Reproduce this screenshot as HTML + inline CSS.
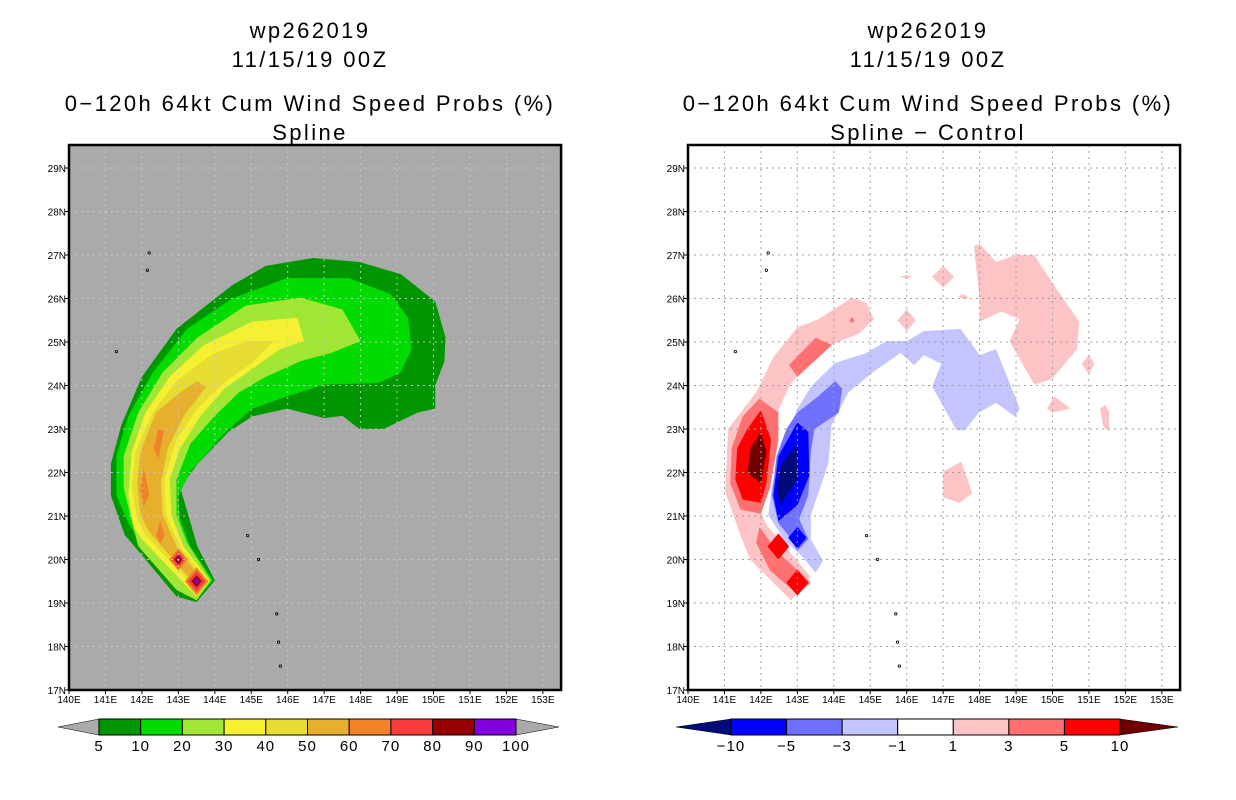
<!DOCTYPE html>
<html><head><meta charset="utf-8"><style>
html,body{margin:0;padding:0;background:#fff;width:1236px;height:800px;overflow:hidden}
svg{display:block}
text{font-family:"Liberation Sans",sans-serif;fill:#000}
.t{font-size:22px;text-anchor:middle;letter-spacing:2.4px}
.ax{font-size:10px}
.cb{font-size:15px;text-anchor:middle;letter-spacing:1px}
</style></head><body>
<svg id="s" width="1236" height="800" viewBox="0 0 1236 800" xmlns="http://www.w3.org/2000/svg"></svg>
<script>
// ---- data ----
const lonTicks=[140,141,142,143,144,145,146,147,148,149,150,151,152,153];
const latTicks=[17,18,19,20,21,22,23,24,25,26,27,28,29];
const probLevels=["5","10","20","30","40","50","60","70","80","90","100"];
const probColors=["#009600","#00dc00","#a0e632","#f5f032","#e6dc32","#e6af2d","#f08228","#fa3c3c","#960000","#8200dc"];
const diffLevels=["\u221210","\u22125","\u22123","\u22121","1","3","5","10"];
const diffColors=["#000a78","#0000ff","#7070ff","#c4c4ff","#ffffff","#fcc4c4","#ff7070","#ff0000","#6e0000"];
// probability contours [lon,lat]
const p5=[[143.5,19.02],[142.95,19.15],[142.0,20.1],[141.53,20.56],[141.15,21.47],[141.15,22.2],[141.44,23.1],[142.0,24.2],[142.95,25.3],[144.47,26.3],[145.4,26.75],[146.7,26.93],[147.97,26.84],[149.1,26.56],[150.05,25.93],[150.33,25.1],[150.3,24.56],[150.05,24.0],[150.05,23.47],[149.57,23.38],[148.63,23.0],[147.97,23.0],[147.5,23.3],[147.0,23.25],[145.98,23.47],[145.03,23.29],[144.37,22.93],[143.53,22.2],[143.05,21.65],[143.28,21.0],[143.52,20.3],[144.0,19.52]];
const p10=[[143.5,19.1],[142.0,20.3],[141.63,20.84],[141.3,21.47],[141.3,22.38],[141.63,23.3],[142.3,24.3],[143.24,25.3],[144.47,26.0],[145.98,26.47],[147.68,26.47],[148.82,26.1],[149.3,25.56],[149.4,24.84],[149.1,24.3],[148.5,24.06],[147.0,24.02],[145.98,23.75],[145.03,23.47],[144.3,22.93],[143.33,22.02],[143.0,21.47],[143.05,20.93],[143.33,20.3],[143.95,19.52]];
const p20=[[143.5,19.06],[142.95,19.3],[141.9,20.3],[141.68,21.02],[141.5,21.65],[141.5,22.38],[141.9,23.38],[142.57,24.3],[143.52,25.1],[144.85,25.84],[146.36,26.02],[147.5,25.75],[148.0,25.02],[147.2,24.75],[146.36,24.56],[145.4,24.2],[144.66,23.84],[144.0,23.3],[143.33,22.66],[142.95,21.84],[142.95,21.02],[143.24,20.38],[143.9,19.52]];
const p30=[[143.5,19.15],[142.0,20.47],[141.77,20.75],[141.63,21.47],[141.72,22.47],[142.1,23.38],[142.76,24.2],[143.7,24.93],[145.03,25.47],[146.26,25.56],[146.45,25.02],[145.8,24.84],[145.03,24.38],[144.27,23.93],[143.6,23.29],[143.05,22.56],[142.76,21.84],[142.81,21.02],[143.14,20.3],[143.85,19.52]];
const p40=[[143.5,19.3],[142.1,20.56],[141.87,20.93],[141.72,21.65],[141.82,22.47],[142.3,23.38],[142.95,24.1],[143.9,24.7],[144.85,25.02],[145.6,25.02],[144.95,24.47],[144.3,24.1],[143.52,23.47],[142.95,22.75],[142.62,21.84],[142.66,21.02],[143.05,20.3],[143.76,19.52]];
const p50=[[143.5,19.38],[142.19,20.65],[141.96,21.02],[141.87,21.75],[141.96,22.47],[142.38,23.38],[143.05,23.84],[143.52,24.1],[143.76,23.97],[143.14,23.29],[142.71,22.56],[142.52,21.75],[142.57,21.02],[142.95,20.3],[143.66,19.52]];
const p60a=[[142.45,23.0],[142.6,22.95],[142.45,22.3],[142.33,22.55]];
const p60b=[[142.05,22.1],[142.2,21.5],[142.05,21.2],[141.95,21.6]];
const p60c=[[142.5,20.9],[142.62,20.55],[142.5,20.35],[142.4,20.55]];
const peakA=[143.0,20.0], peakB=[143.5,19.5];
// difference contours
const dPinkArc=[[143.2,19.45],[142.83,19.06],[141.7,20.0],[141.4,20.65],[141.02,21.56],[141.1,23.0],[141.87,23.84],[142.34,24.65],[143.0,25.34],[143.57,25.52],[144.5,26.02],[144.9,25.9],[145.1,25.52],[144.7,25.2],[143.94,24.93],[143.2,24.38],[142.8,24.02],[142.5,23.47],[142.4,22.75],[142.0,21.1],[142.15,20.8],[143.37,19.6]];
const dPinkEast=[[147.85,27.2],[148.0,27.25],[148.45,26.84],[149.0,27.0],[149.5,27.0],[149.98,26.38],[150.73,25.47],[150.68,24.84],[149.98,24.15],[149.5,24.02],[148.82,25.02],[149.1,25.52],[148.6,25.7],[148.0,25.47],[148.0,26.02],[147.9,26.75]];
const dPinkSmall=[[[146.7,26.5],[147.0,26.75],[147.3,26.5],[147.0,26.25]],[[145.75,25.5],[146.0,25.75],[146.25,25.5],[146.0,25.25]],[[150.8,24.5],[151.0,24.7],[151.15,24.5],[151.0,24.25]],[[149.85,23.47],[150.05,23.75],[150.5,23.47],[150.0,23.38]],[[151.3,23.47],[151.45,23.55],[151.55,23.4],[151.55,22.95],[151.4,23.05]],[[147.0,22.02],[147.5,22.25],[147.8,21.52],[147.45,21.3],[147.0,21.43]],[[145.8,26.5],[146.0,26.54],[146.15,26.5],[146.0,26.46]],[[147.4,26.05],[147.55,26.1],[147.7,26.02],[147.55,25.98]]];
const dMedRed=[[[142.77,24.47],[143.5,25.1],[143.95,24.93],[143.0,24.2]],[[141.96,23.7],[142.48,23.38],[142.48,22.75],[142.25,21.65],[142.0,21.05],[141.44,21.15],[141.16,21.75],[141.2,22.56],[141.5,23.29]],[[141.96,20.75],[142.43,20.2],[143.37,19.47],[143.0,19.2],[142.25,19.75],[141.87,20.38]]];
const dRed=[[[142.0,23.43],[142.28,22.75],[142.15,21.75],[142.0,21.3],[141.5,21.38],[141.3,21.84],[141.35,22.56],[141.63,23.0]],[[142.48,20.6],[142.78,20.3],[142.48,20.0],[142.18,20.3]],[[143.0,19.77],[143.3,19.47],[143.0,19.17],[142.7,19.47]]];
const dDarkRed=[[142.0,22.93],[142.15,22.47],[142.0,21.75],[141.63,22.0],[141.72,22.56]];
const dLightBlue=[[143.5,19.7],[143.7,19.97],[143.37,20.47],[143.37,21.02],[143.85,22.2],[143.94,23.1],[144.4,23.84],[145.07,24.3],[145.83,24.75],[146.2,24.47],[146.47,24.7],[146.95,24.5],[146.7,23.97],[147.37,22.97],[147.6,22.97],[147.98,23.38],[148.45,23.6],[148.97,23.29],[149.1,23.47],[148.45,24.84],[148.0,24.7],[147.48,25.3],[146.47,25.25],[146.0,25.02],[145.44,25.02],[144.9,24.75],[144.04,24.52],[143.4,24.0],[143.0,23.47],[142.58,22.56],[142.3,21.65],[142.2,21.02],[142.63,20.47],[143.1,20.1]];
const dMedBlue=[[143.0,23.38],[143.57,23.75],[144.04,24.1],[144.23,23.93],[144.14,23.38],[143.47,23.0],[143.37,22.47],[143.3,21.47],[143.05,20.93],[143.3,20.47],[143.0,20.2],[142.75,20.56],[142.48,20.84],[142.3,21.47],[142.43,22.38],[142.7,23.0]];
const dBlue=[[[143.0,23.15],[143.3,22.93],[143.33,21.93],[143.0,21.25],[142.48,20.88],[142.34,21.47],[142.48,22.38]],[[143.0,20.75],[143.25,20.5],[143.0,20.25],[142.75,20.5]]];
const dNavy=[[143.0,22.65],[143.0,21.84],[142.53,21.25],[142.43,21.65],[142.57,22.2]];
const islands=[[142.2,27.05],[142.15,26.65],[141.3,24.78],[144.9,20.55],[145.2,20.0],[145.7,18.75],[145.75,18.1],[145.8,17.55]];

// ---- drawing ----
const NS="http://www.w3.org/2000/svg";
const svg=document.getElementById('s');
const Y0=690, KX=36.45, KY=43.5;
function xs(lon,ox){return ox+(lon-140)*KX;}
function ys(lat){return Y0-(lat-17)*KY;}
function mk(tag,attrs,parent){const e=document.createElementNS(NS,tag);for(const k in attrs)e.setAttribute(k,attrs[k]);(parent||svg).appendChild(e);return e;}
function poly(pts,ox,fill,g,name){
  const e=mk('polygon',{points:pts.map(p=>xs(p[0],ox).toFixed(1)+','+ys(p[1]).toFixed(1)).join(' '),fill:fill},g);
  
  
  return e;
}
function diamond(c,h,ox,fill,g,name){return poly([[c[0],c[1]+h],[c[0]+h,c[1]],[c[0],c[1]-h],[c[0]-h,c[1]]],ox,fill,g,name);}
function txt(x,y,s,cls,parent,name,anchor){const e=mk('text',{x:x,y:y,class:cls},parent);if(anchor)e.setAttribute('text-anchor',anchor);e.textContent=s;
  
  
  return e;}

function panel(ox,cx,titles,bg,name){
  const g=mk('g',{});
  
  
  const ys_=[38,67,111,140];
  titles.forEach((t,i)=>txt(cx,ys_[i],t,'t',g,'title-line-'+(i+1)));
  const w=13.5*KX, top=145;
  const r=mk('rect',{x:ox,y:top,width:w,height:Y0-top,fill:bg},g);
  
  
  const cg=mk('g',{},g);
  
  
  return {g,cg,ox,w,top};
}
function finishPanel(P,gridColor){
  const {g,ox,w,top}=P;
  const gg=mk('g',{stroke:gridColor,'stroke-width':1,'stroke-dasharray':'2,4'},g);
  
  
  lonTicks.forEach(l=>{if(l>140)mk('line',{x1:xs(l,ox),x2:xs(l,ox),y1:top,y2:Y0},gg);});
  latTicks.forEach(l=>{if(l>17)mk('line',{x1:ox,x2:ox+w,y1:ys(l),y2:ys(l)},gg);});
  islands.forEach(p=>{const e=mk('circle',{cx:xs(p[0],ox),cy:ys(p[1]),r:1.2,fill:'none',stroke:'#000','stroke-width':0.8},g);
    
    });
  const f=mk('rect',{x:ox,y:top,width:w,height:Y0-top,fill:'none',stroke:'#000','stroke-width':2.5},g);
  
  
  lonTicks.forEach(l=>{const x=xs(l,ox);mk('line',{x1:x,x2:x,y1:Y0,y2:Y0+4,stroke:'#000'},g);
    txt(x,Y0+13,l+'E','ax',g,'x-tick-label','middle');});
  latTicks.forEach(l=>{const y=ys(l);mk('line',{x1:ox-4,x2:ox,y1:y,y2:y,stroke:'#000'},g);
    txt(ox-3,y+4,l+'N','ax',g,'y-tick-label','end');});
}
function colorbar(x0,x1,tl,tr,cols,labels,triL,triR,name){
  const g=mk('g',{});
  
  
  const y0=719,y1=735,ym=727,n=cols.length,bw=(x1-x0)/n;
  const a=mk('polygon',{points:`${tl},${ym} ${x0},${y0} ${x0},${y1}`,fill:triL,stroke:'#000','stroke-width':0.5},g);
  
  
  const b=mk('polygon',{points:`${tr},${ym} ${x1},${y0} ${x1},${y1}`,fill:triR,stroke:'#000','stroke-width':0.5},g);
  
  
  cols.forEach((c,i)=>{const r=mk('rect',{x:x0+i*bw,y:y0,width:bw,height:y1-y0,fill:c,stroke:'#000','stroke-width':1},g);
    
    });
  labels.forEach((l,i)=>txt(x0+i*bw,751,l,'cb',g,'colorbar-label'));
}

// left panel
const L=panel(69,310,['wp262019','11/15/19 00Z','0\u2212120h 64kt Cum Wind Speed Probs (%)','Spline'],'#aaaaaa','left-panel');
[[p5,0],[p10,1],[p20,2],[p30,3],[p40,4],[p50,5]].forEach(([p,i])=>poly(p,69,probColors[i],L.cg,'prob-contour-'+probLevels[i]));
[p60a,p60b,p60c].forEach(p=>poly(p,69,probColors[6],L.cg,'prob-contour-60'));
[[0.32,6],[0.24,7],[0.14,8],[0.07,9]].forEach(([h,i])=>{diamond(peakA,h*0.8,69,probColors[i],L.cg,'prob-peak-a');diamond(peakB,h,69,probColors[i],L.cg,'prob-peak-b');});
finishPanel(L,'#c8c8c8');
colorbar(99,516,58,559,probColors,probLevels,'#aaaaaa','#aaaaaa','left-colorbar');

// right panel
const R=panel(688,928,['wp262019','11/15/19 00Z','0\u2212120h 64kt Cum Wind Speed Probs (%)','Spline \u2212 Control'],'#ffffff','right-panel');
poly(dPinkArc,688,diffColors[5],R.cg,'diff-contour-1-3');
poly(dPinkEast,688,diffColors[5],R.cg,'diff-contour-1-3');
dPinkSmall.forEach(p=>poly(p,688,diffColors[5],R.cg,'diff-contour-1-3'));
dMedRed.forEach(p=>poly(p,688,diffColors[6],R.cg,'diff-contour-3-5'));
diamond([144.5,25.5],0.07,688,diffColors[6],R.cg,'diff-contour-3-5');
dRed.forEach(p=>poly(p,688,diffColors[7],R.cg,'diff-contour-5-10'));
poly(dDarkRed,688,diffColors[8],R.cg,'diff-contour-gt-10');
poly(dLightBlue,688,diffColors[3],R.cg,'diff-contour-neg-1-3');
poly(dMedBlue,688,diffColors[2],R.cg,'diff-contour-neg-3-5');
dBlue.forEach(p=>poly(p,688,diffColors[1],R.cg,'diff-contour-neg-5-10'));
poly(dNavy,688,diffColors[0],R.cg,'diff-contour-lt-neg-10');
finishPanel(R,'#a0a0a0');
colorbar(731,1120,676,1178,diffColors.slice(1,8),diffLevels,diffColors[0],diffColors[8],'right-colorbar');
</script>
</body></html>
